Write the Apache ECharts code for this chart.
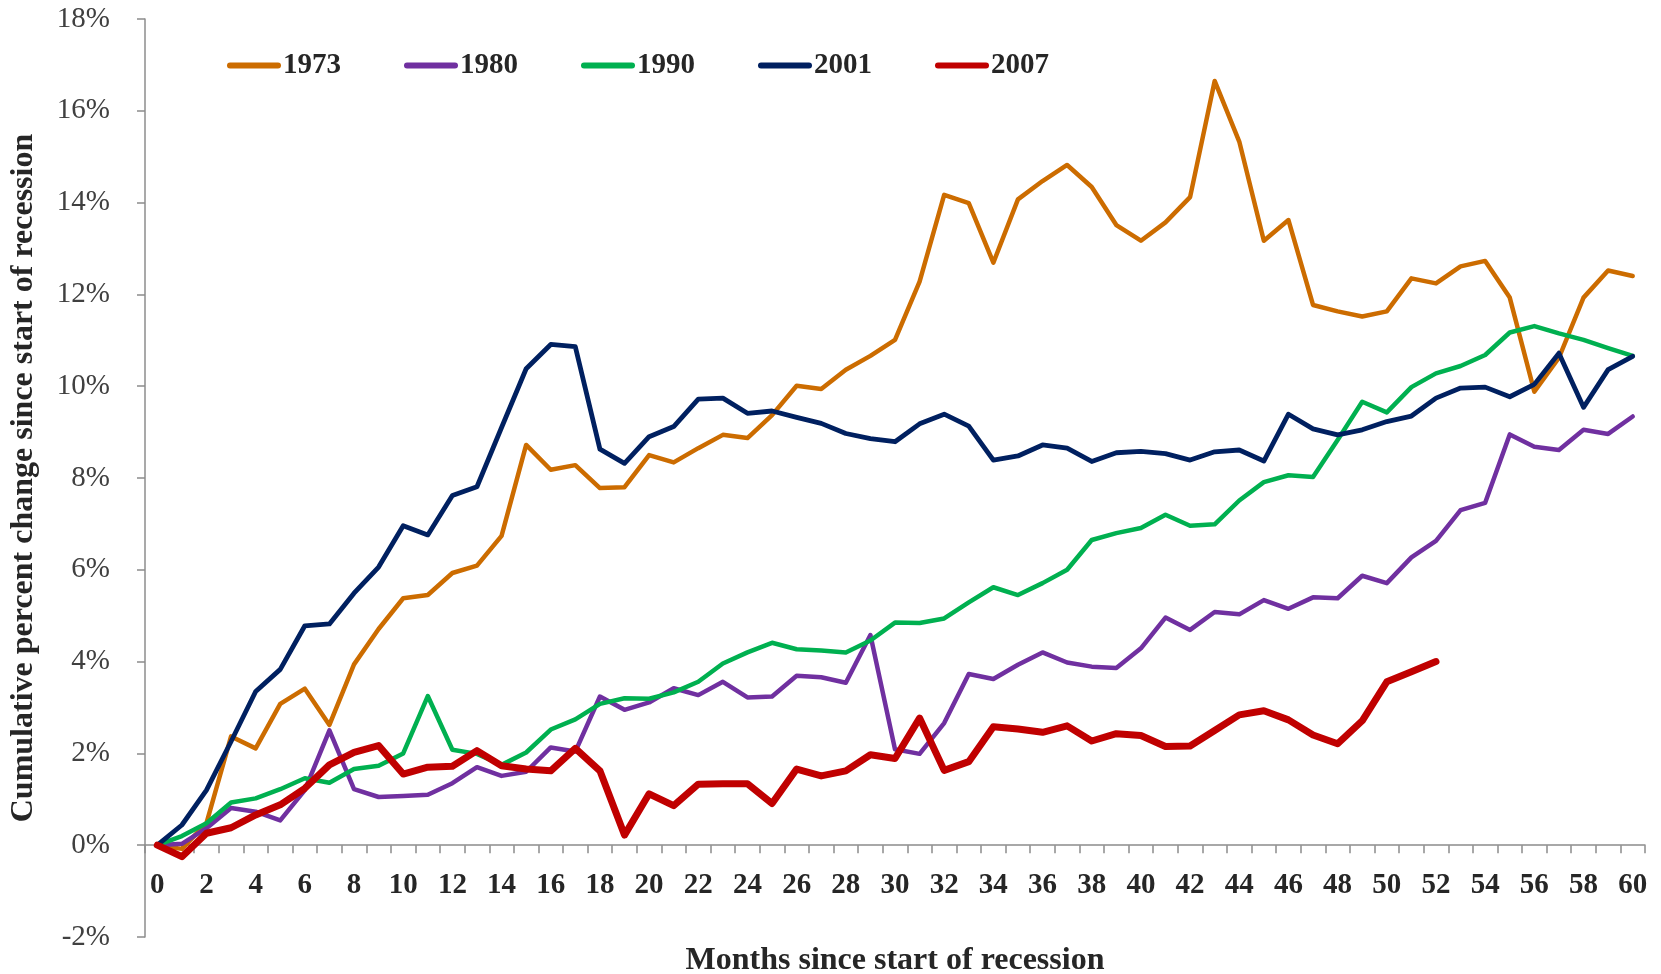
<!DOCTYPE html>
<html>
<head>
<meta charset="utf-8">
<script src="https://cdn.jsdelivr.net/npm/echarts@6/dist/echarts.min.js"></script>
<style>
html,body{margin:0;padding:0;background:#fff;}
#chart{width:1661px;height:974px;}
</style>
</head>
<body>
<div id="chart"></div>
<script>
const months = Array.from({length: 61}, (_, i) => String(i));

const s1973 = [0,-0.08,0.48,2.37,2.11,3.08,3.41,2.62,3.94,4.71,5.38,5.45,5.93,6.09,6.74,8.72,8.18,8.28,7.78,7.80,8.50,8.34,8.65,8.94,8.87,9.37,10.01,9.94,10.36,10.66,11.01,12.28,14.17,13.99,12.69,14.07,14.47,14.82,14.34,13.51,13.17,13.57,14.12,16.65,15.33,13.17,13.62,11.77,11.63,11.52,11.63,12.35,12.24,12.61,12.73,11.93,9.88,10.62,11.93,12.52,12.40];

const s1980 = [0,0.03,0.37,0.81,0.73,0.54,1.2,2.5,1.22,1.05,1.07,1.1,1.35,1.7,1.51,1.6,2.13,2.04,3.24,2.95,3.11,3.42,3.27,3.56,3.22,3.24,3.69,3.66,3.54,4.58,2.09,1.99,2.66,3.73,3.62,3.93,4.2,3.98,3.89,3.86,4.29,4.96,4.69,5.08,5.03,5.34,5.15,5.4,5.38,5.87,5.71,6.27,6.63,7.3,7.46,8.95,8.68,8.61,9.05,8.96,9.34];

const s1990 = [0,0.2,0.48,0.93,1.02,1.22,1.46,1.36,1.66,1.73,2.0,3.25,2.08,1.99,1.75,2.02,2.52,2.74,3.08,3.2,3.19,3.33,3.56,3.96,4.2,4.41,4.27,4.24,4.2,4.46,4.85,4.84,4.94,5.29,5.62,5.45,5.71,6.0,6.65,6.80,6.91,7.2,6.96,6.99,7.51,7.91,8.06,8.02,8.83,9.66,9.43,9.98,10.28,10.44,10.68,11.17,11.31,11.15,11.01,10.83,10.66];

const s2001 = [0,0.44,1.2,2.26,3.35,3.83,4.78,4.82,5.49,6.06,6.96,6.76,7.62,7.81,9.1,10.38,10.91,10.86,8.63,8.32,8.90,9.12,9.72,9.74,9.41,9.46,9.32,9.19,8.97,8.86,8.79,9.18,9.39,9.13,8.39,8.48,8.72,8.65,8.36,8.55,8.58,8.53,8.39,8.57,8.61,8.37,9.39,9.07,8.94,9.05,9.23,9.35,9.74,9.96,9.98,9.77,10.04,10.72,9.54,10.36,10.65];

const s2007 = [0,-0.25,0.26,0.38,0.66,0.88,1.24,1.75,2.02,2.17,1.55,1.7,1.72,2.06,1.73,1.66,1.62,2.11,1.62,0.22,1.12,0.86,1.33,1.34,1.34,0.91,1.66,1.51,1.62,1.97,1.89,2.77,1.63,1.82,2.58,2.53,2.46,2.6,2.27,2.43,2.39,2.15,2.16,2.5,2.84,2.93,2.73,2.4,2.21,2.71,3.56,3.78,4.0];

const seriesNames = ['1973','1980','1990','2001','2007'];
const seriesData = [s1973, s1980, s1990, s2001, s2007];
const seriesColors = ['#CC6C00','#7030A0','#00B050','#002060','#C00000'];
const seriesWidths = [4.5, 4.5, 4.5, 4.8, 7];

const FONT = '"Liberation Serif", "DejaVu Serif", serif';
const CAPSULE = 'path://M3,0 L51,0 A3,3 0 0 1 51,6 L3,6 A3,3 0 0 1 3,0 Z';

const chart = echarts.init(document.getElementById('chart'), null, {renderer: 'canvas'});
const option = {
  animation: false,
  backgroundColor: '#ffffff',
  grid: {left: 145, right: 16, top: 19, bottom: 37, containLabel: false, outerBoundsMode: 'none'},
  legend: {
    left: 222,
    top: 46,
    icon: CAPSULE,
    itemWidth: 54,
    itemHeight: 6,
    itemGap: 63,
    textStyle: {fontFamily: FONT, fontSize: 29, fontWeight: 'bold', color: '#262626', padding: [0,0,0,-3]},
    data: seriesNames
  },
  xAxis: {
    type: 'category',
    data: months,
    boundaryGap: true,
    position: 'bottom',
    offset: 0,
    axisLine: {onZero: false, lineStyle: {color: '#8c8c8c', width: 1.5}},
    axisTick: {show: true, interval: 0, length: 8, lineStyle: {color: '#8c8c8c', width: 1.5}},
    axisLabel: {interval: 1, margin: 26, fontFamily: FONT, fontSize: 29, fontWeight: 'bold', color: '#262626'},
    splitLine: {show: false},
    name: 'Months since start of recession',
    nameLocation: 'middle',
    nameGap: 100,
    nameTextStyle: {fontFamily: FONT, fontSize: 32, fontWeight: 'bold', color: '#262626'}
  },
  yAxis: {
    type: 'value',
    min: -2,
    max: 18,
    interval: 2,
    axisLine: {show: true, lineStyle: {color: '#8c8c8c', width: 1.5}},
    axisTick: {show: true, length: 8, lineStyle: {color: '#8c8c8c', width: 1.5}},
    axisLabel: {formatter: '{value}%', margin: 35, fontFamily: FONT, fontSize: 29, color: '#404040'},
    splitLine: {show: false},
    name: 'Cumulative percent change since start of recession',
    nameLocation: 'middle',
    nameGap: 105,
    nameTextStyle: {fontFamily: FONT, fontSize: 32, fontWeight: 'bold', color: '#262626'}
  },
  series: seriesNames.map((n, i) => ({
    name: n,
    type: 'line',
    data: seriesData[i],
    showSymbol: false,
    symbol: 'none',
    color: seriesColors[i],
    lineStyle: {color: seriesColors[i], width: seriesWidths[i], cap: 'round', join: 'round'},
    emphasis: {disabled: true},
    z: 2 + i
  }))
};
chart.setOption(option);
// Move the category axis (line, ticks, labels) up to the 0% level, like the reference.
const yZero = chart.convertToPixel({yAxisIndex: 0}, 0);
const yBottom = chart.convertToPixel({yAxisIndex: 0}, -2);
chart.setOption({xAxis: {offset: -(yBottom - yZero)}});
</script>
</body>
</html>
